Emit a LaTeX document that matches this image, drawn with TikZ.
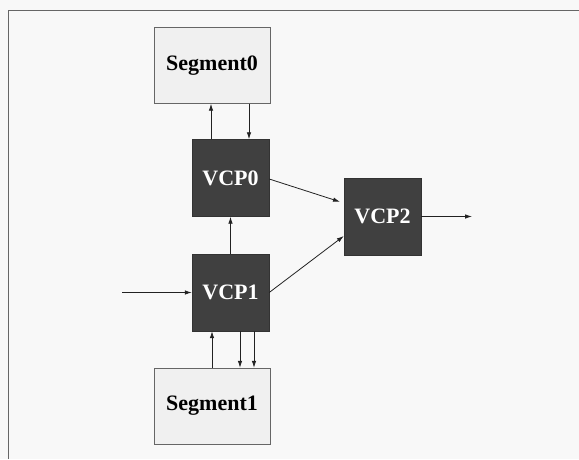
\documentclass[tikz,border=0pt]{standalone}
\usepackage{fontspec}
\setmainfont{Liberation Serif}
\usetikzlibrary{arrows.meta}
\definecolor{bg}{HTML}{F8F8F8}
\definecolor{darkbox}{HTML}{404040}
\definecolor{segfill}{HTML}{F0F0F0}
\definecolor{segline}{HTML}{666666}
\definecolor{wire}{HTML}{222222}
\tikzset{
  vcp/.style={draw=darkbox!80!black, fill=darkbox, text=white, minimum width=77pt, minimum height=77pt, inner sep=0pt, font=\fontsize{22}{26}\selectfont\bfseries},
  seg/.style={draw=segline, fill=segfill, text=black, minimum width=116pt, minimum height=76pt, inner sep=0pt, font=\fontsize{22}{26}\selectfont\bfseries},
  arr/.style={draw=wire, line width=0.8pt, -{Latex[length=7pt,width=4.5pt]}}
}
\begin{document}
\begin{tikzpicture}[x=1pt,y=-1pt]
\fill[bg] (0,0) rectangle (579,459);
\useasboundingbox (0,0) rectangle (579,459);
\draw[segline, line width=0.8pt] (8,459) -- (8,10) -- (579,10);
\node[seg] (Seg0) at (212,65.5) {Segment0};
\node[vcp] (VCP0) at (230.5,178) {VCP0};
\node[vcp] (VCP1) at (230.5,292.5) {VCP1};
\node[vcp] (VCP2) at (382.5,216.5) {VCP2};
\node[seg] (Seg1) at (212,406) {Segment1};
\coordinate (in) at (122,292.5);
\coordinate (out) at (472,216.5);
% Segment0 <-> VCP0
\draw[arr] ([xshift=-19.5pt]VCP0.north) -- ([xshift=-19.5pt]VCP0.north |- Seg0.south);
\draw[arr] ([xshift=18.5pt]VCP0.north |- Seg0.south) -- ([xshift=18.5pt]VCP0.north);
% VCP1 -> VCP0
\draw[arr] (VCP1.north) -- (VCP0.south);
% input
\draw[arr] (in) -- (VCP1.west);
% to VCP2
\draw[arr, shorten >=4pt] ([yshift=-1pt]VCP0.east) -- ([yshift=13.5pt]VCP2.west);
\draw[arr] (VCP1.east) -- ([yshift=-19.5pt]VCP2.west);
\draw[arr] (VCP2.east) -- (out);
% Segment1 <-> VCP1
\draw[arr] ([xshift=-18.5pt]VCP1.south |- Seg1.north) -- ([xshift=-18.5pt]VCP1.south);
\draw[arr] ([xshift=9.5pt]VCP1.south) -- ([xshift=9.5pt]VCP1.south |- Seg1.north);
\draw[arr] ([xshift=23.5pt]VCP1.south) -- ([xshift=23.5pt]VCP1.south |- Seg1.north);
\end{tikzpicture}
\end{document}
